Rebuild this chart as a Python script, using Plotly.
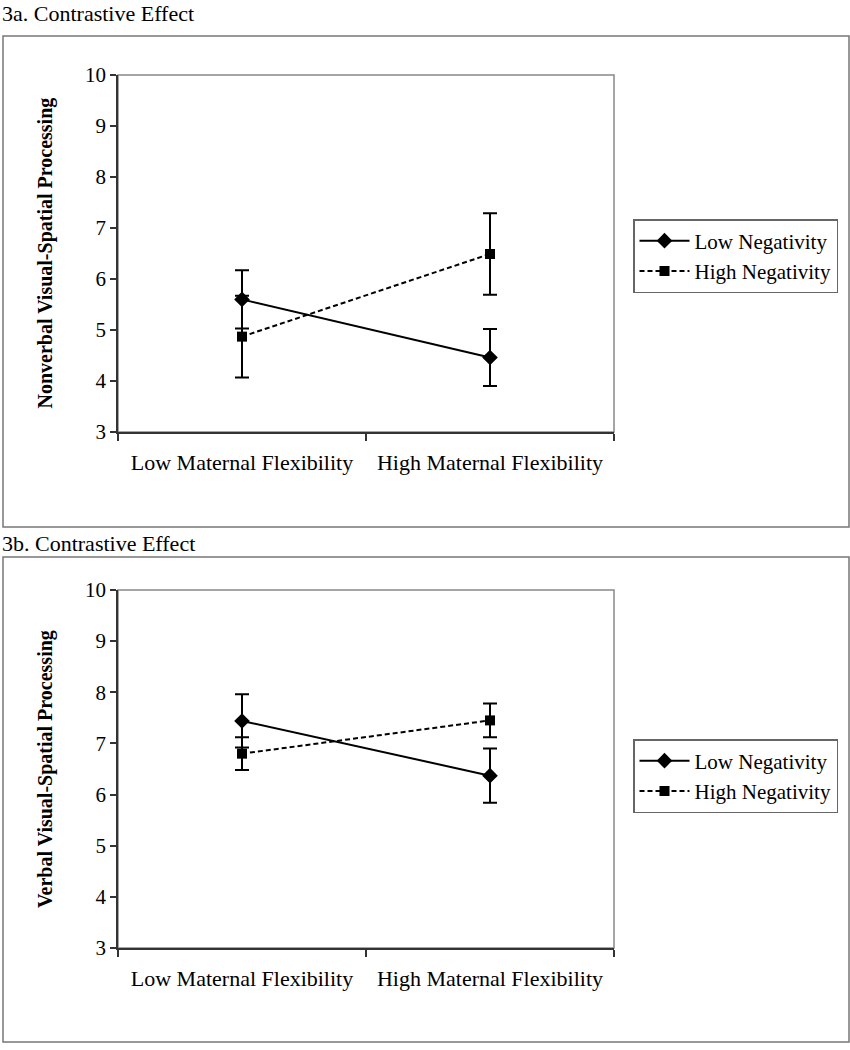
import plotly.graph_objects as go

# ---- data ----
categories = ["Low Maternal Flexibility", "High Maternal Flexibility"]
series_names = ["Low Negativity", "High Negativity"]

a_low_neg = [5.60, 4.46]
a_low_neg_err = [0.57, 0.56]
a_high_neg = [4.87, 6.49]
a_high_neg_err = [0.80, 0.80]

b_low_neg = [7.44, 6.37]
b_low_neg_err = [0.52, 0.53]
b_high_neg = [6.80, 7.45]
b_high_neg_err = [0.32, 0.33]

panel_titles = ["3a. Contrastive Effect", "3b. Contrastive Effect"]
y_titles = ["Nonverbal Visual-Spatial Processing", "Verbal Visual-Spatial Processing"]
y_ticks = [3, 4, 5, 6, 7, 8, 9, 10]

W, H = 850, 1050
FONT = "Liberation Serif"


def px(x):
    return x / W


def py(y):
    return 1 - y / H


fig = go.Figure()

panels = [
    dict(xa="x", ya="y", low=a_low_neg, lowe=a_low_neg_err, high=a_high_neg, highe=a_high_neg_err,
         legend="legend"),
    dict(xa="x2", ya="y2", low=b_low_neg, lowe=b_low_neg_err, high=b_high_neg, highe=b_high_neg_err,
         legend="legend2"),
]

for p in panels:
    fig.add_trace(go.Scatter(
        x=categories, y=p["low"], name=series_names[0], xaxis=p["xa"], yaxis=p["ya"],
        mode="lines+markers", legend=p["legend"], legendgroup="a",
        line=dict(color="black", width=2, dash="solid"),
        marker=dict(symbol="diamond", size=12, color="black"),
        error_y=dict(type="data", array=p["lowe"], visible=True, color="black", thickness=2, width=7),
    ))
    fig.add_trace(go.Scatter(
        x=categories, y=p["high"], name=series_names[1], xaxis=p["xa"], yaxis=p["ya"],
        mode="lines+markers", legend=p["legend"], legendgroup="b",
        line=dict(color="black", width=2, dash="5px,3px"),
        marker=dict(symbol="square", size=10, color="black"),
        error_y=dict(type="data", array=p["highe"], visible=True, color="black", thickness=2, width=7),
    ))

xdom = [px(118), px(614)]
axis_common_x = dict(
    type="category", range=[-0.5, 1.5], tickson="boundaries", ticks="outside", ticklen=7,
    tickcolor="#333", tickwidth=1.5, showline=True, linecolor="#333", linewidth=1.5,
    showgrid=False, zeroline=False, tickfont=dict(family=FONT, size=22, color="black"),
    ticklabelstandoff=10, fixedrange=True, automargin=False,
)
axis_common_y = dict(
    range=[3, 10], tickvals=y_ticks, ticks="outside", ticklen=6, tickcolor="#333", tickwidth=1.5,
    showline=True, linecolor="#333", linewidth=1.5, showgrid=False, zeroline=False,
    tickfont=dict(family=FONT, size=21, color="black"), fixedrange=True, automargin=False,
)

legend_common = dict(
    xanchor="left", yanchor="top", bordercolor="#666", borderwidth=1.5, bgcolor="white",
    font=dict(family=FONT, size=21, color="black"), itemwidth=50,
    tracegroupgap=6, traceorder="normal",
)

fig.update_layout(
    template="none",
    width=W, height=H, margin=dict(l=0, r=0, t=0, b=0, pad=0, autoexpand=False),
    paper_bgcolor="white", plot_bgcolor="white",
    font=dict(family=FONT, color="black"),
    xaxis=dict(domain=xdom, anchor="y", **axis_common_x),
    yaxis=dict(domain=[py(432), py(75)], anchor="x", **axis_common_y),
    xaxis2=dict(domain=xdom, anchor="y2", **axis_common_x),
    yaxis2=dict(domain=[py(948), py(590)], anchor="x2", **axis_common_y),
    legend=dict(x=px(633), y=py(219), **legend_common),
    legend2=dict(x=px(633), y=py(739), **legend_common),
    showlegend=True,
)

shapes = []
# outer panel boxes
for (t, b) in [(36, 527), (557, 1042)]:
    shapes.append(dict(type="rect", xref="paper", yref="paper", x0=px(3), x1=px(849),
                       y0=py(b), y1=py(t), line=dict(color="#777", width=1.5), layer="below"))
# plot area boxes (grey top/right)
for (xa, ya) in [("x", "y"), ("x2", "y2")]:
    shapes.append(dict(type="rect", xref=f"{xa} domain", yref=f"{ya} domain", x0=0, x1=1, y0=0, y1=1,
                       line=dict(color="#888", width=1.5), layer="below"))
fig.update_layout(shapes=shapes)

annotations = []
for title, ty in zip(panel_titles, [13, 543]):
    annotations.append(dict(text=title, xref="paper", yref="paper", x=0, y=py(ty),
                            xanchor="left", yanchor="middle", showarrow=False,
                            font=dict(family=FONT, size=22, color="black")))
for yt, (t, b) in zip(y_titles, [(75, 432), (590, 948)]):
    annotations.append(dict(text=f"<b>{yt}</b>", xref="paper", yref="paper", x=px(45), y=py((t + b) / 2),
                            xanchor="center", yanchor="middle", textangle=-90, showarrow=False,
                            font=dict(family=FONT, size=20, color="black")))
fig.update_layout(annotations=annotations)

post = (
    "document.body.style.margin='0';"
    "document.body.style.overflow='hidden';"
    "var gd=document.getElementById('{plot_id}');"
    "gd.style.position='absolute';gd.style.top='0px';gd.style.left='0px';"
)

fig.write_html("out.html", config={"displayModeBar": False}, post_script=post)
